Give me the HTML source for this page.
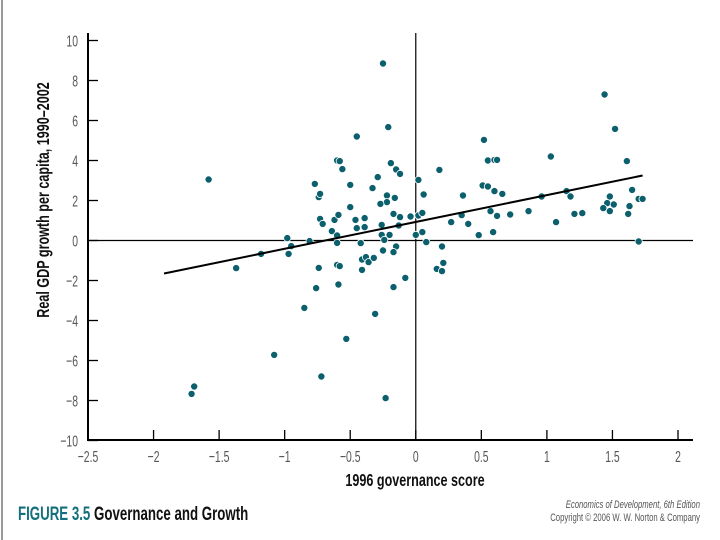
<!DOCTYPE html>
<html><head><meta charset="utf-8"><style>
html,body{margin:0;padding:0;background:#fff;}
body{width:720px;height:540px;overflow:hidden;position:relative;font-family:"Liberation Sans",sans-serif;}
</style></head><body>
<div style="position:absolute;left:1px;top:0;width:2px;height:540px;background:#999;"></div>
<svg id="chart" width="720" height="540" style="position:absolute;left:0;top:0;">
</svg>
<script>
const xs = [-1.58,-0.45,-0.21,-0.25,-0.60,-0.58,-0.56,-0.77,-0.74,-0.73,-0.50,-0.29,-0.33,-0.19,-0.15,-0.12,-0.22,-0.16,-0.22,-0.27,-0.50,-0.73,-0.71,-0.62,-0.59,-0.46,-0.39,-0.45,-0.39,-0.26,-0.17,-0.12,-0.13,-0.04,0.02,0.02,-0.64,-0.60,-0.60,-0.26,-0.20,-0.24,0.00,-0.42,-0.15,-0.25,-0.17,-0.98,-0.95,-0.81,-0.97,-1.18,-1.37,-0.74,-0.60,-0.58,-0.41,-0.38,-0.36,-0.32,-0.41,-0.08,-0.17,-0.76,-0.59,-0.85,-0.31,-0.53,-1.08,-0.72,-1.69,-1.71,-0.23,
1.44,1.52,0.52,1.03,1.61,0.55,0.60,0.62,0.18,0.06,0.36,0.51,0.55,0.60,0.66,0.96,1.15,1.18,1.65,1.48,1.46,1.51,1.43,1.48,1.63,1.62,1.70,1.73,1.21,1.27,0.86,0.72,0.62,0.57,0.35,0.40,0.27,1.07,0.59,0.48,0.05,0.05,0.08,0.20,0.21,0.16,0.20,1.70];
const ys = [3.05,5.2,5.67,8.85,4.0,3.97,3.57,2.83,2.17,2.33,2.78,3.17,2.62,3.87,3.55,3.33,2.25,2.13,1.92,1.83,1.67,1.08,0.83,1.03,1.28,1.03,1.12,0.62,0.67,0.78,1.33,1.17,0.75,1.2,1.25,3.03,0.47,0.25,-0.12,0.28,0.28,0.03,0.28,-0.13,-0.3,-0.5,-0.58,0.12,-0.28,-0.03,-0.67,-0.67,-1.38,-1.37,-1.22,-1.28,-0.95,-0.83,-1.08,-0.87,-1.47,-1.87,-2.33,-2.38,-2.2,-3.37,-3.67,-4.92,-5.72,-6.8,-7.3,-7.67,-7.88,
7.3,5.58,5.03,4.2,3.97,4.0,4.03,4.03,3.53,2.3,2.25,2.75,2.7,2.47,2.33,2.2,2.47,2.2,2.53,2.2,1.87,1.8,1.62,1.47,1.72,1.33,2.08,2.08,1.33,1.37,1.47,1.3,1.23,1.47,1.27,0.83,0.92,0.92,0.42,0.27,1.38,0.42,-0.08,-0.3,-1.12,-1.42,-1.53,-0.05];
const xTicks = [-2.5,-2,-1.5,-1,-0.5,0,0.5,1,1.5,2];
const xTickLabels = ["−2.5","−2","−1.5","−1","−0.5","0","0.5","1","1.5","2"];
const yTicks = [10,8,6,4,2,0,-2,-4,-6,-8,-10];
const yTickLabels = ["10","8","6","4","2","0","−2","−4","−6","−8","−10"];
const fitX = [-1.92,1.73];
const fitY = [-1.65,3.25];

const X = v => 88 + (v + 2.5) * (590 / 4.5);
const Y = v => 240.5 - v * 20;
const svg = document.getElementById('chart');
const NS = 'http://www.w3.org/2000/svg';
function mk(tag, attrs, parent){const e=document.createElementNS(NS,tag);for(const k in attrs)e.setAttribute(k,attrs[k]);(parent||svg).appendChild(e);return e;}

// axes
let a = mk('line',{x1:88,y1:33,x2:88,y2:441,stroke:'#000','stroke-width':2});


a = mk('line',{x1:87,y1:440,x2:693,y2:440,stroke:'#000','stroke-width':2});


a = mk('line',{x1:88,y1:Y(0),x2:693,y2:Y(0),stroke:'#000','stroke-width':1.2});


a = mk('line',{x1:X(0),y1:33,x2:X(0),y2:440,stroke:'#000','stroke-width':1.2});



yTicks.forEach((t,i)=>{
  const l=mk('line',{x1:88,y1:Y(t),x2:98,y2:Y(t),stroke:'#000','stroke-width':1.3});
  
  
  const tx=mk('text',{x:78,y:Y(t)+6,'text-anchor':'end','font-size':16,fill:'#555',transform:`translate(${78*0.35},0) scale(0.65,1)`,'font-family':'Liberation Sans, sans-serif'});
  tx.setAttribute('x',78/0.65*1);
  tx.setAttribute('transform',`scale(0.65,1)`);
  tx.setAttribute('x',78/0.65);
  tx.textContent=yTickLabels[i];
  
  
});
xTicks.forEach((t,i)=>{
  const l=mk('line',{x1:X(t),y1:430,x2:X(t),y2:440,stroke:'#000','stroke-width':1.3});
  
  
  const tx=mk('text',{x:X(t)/0.65,y:462,'text-anchor':'middle','font-size':16,fill:'#555',transform:'scale(0.65,1)'});
  tx.textContent=xTickLabels[i];
  
  
});

// points
xs.forEach((v,i)=>{
  const c=mk('circle',{cx:X(v),cy:Y(ys[i]),r:3.6,fill:'#0c5f6c',stroke:'#fff','stroke-width':0.8});
  
  
});

// fit line
const fl=mk('line',{x1:X(fitX[0]),y1:Y(fitY[0]),x2:X(fitX[1]),y2:Y(fitY[1]),stroke:'#000','stroke-width':2});



// titles
let t=mk('text',{x:(415)/0.7,y:486,'text-anchor':'middle','font-size':18,'font-weight':'bold',fill:'#111',transform:'scale(0.7,1)'});
t.textContent='1996 governance score';


t=mk('text',{x:0,y:0,'text-anchor':'middle','font-size':18,'font-weight':'bold',fill:'#111',transform:'translate(49,200) rotate(-90) scale(0.7,1)'});
t.textContent='Real GDP growth per capita, 1990–2002';



t=mk('text',{x:18/0.7,y:520,'font-size':19,'font-weight':'bold',transform:'scale(0.7,1)'});


const s1=mk('tspan',{fill:'#14707c'},t);s1.textContent='FIGURE 3.5 ';
const s2=mk('tspan',{fill:'#111'},t);s2.textContent='Governance and Growth';

t=mk('text',{x:700/0.7,y:508,'text-anchor':'end','font-size':11,fill:'#555','font-style':'italic',transform:'scale(0.7,1)'});
t.textContent='Economics of Development, 6th Edition';


t=mk('text',{x:700/0.7,y:521,'text-anchor':'end','font-size':11,fill:'#555',transform:'scale(0.7,1)'});
t.textContent='Copyright © 2006 W. W. Norton & Company';


</script>
</body></html>
